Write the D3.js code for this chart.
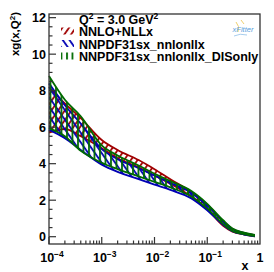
<!DOCTYPE html>
<html lang="en">
<head>
    <meta charset="UTF-8">
    <title>xg(x,Q2) bands</title>
    <script src="https://d3js.org/d3.v7.min.js"></script>
    <style>
        body { margin: 0; background: #fff; }
        svg { display: block; }
        text { font-family: "Liberation Sans", Arial, sans-serif; }
        .tick-label { font-size: 12.5px; font-weight: bold; fill: #000; }
        .legend-text { font-size: 12.5px; font-weight: bold; fill: #000; }
    </style>
</head>
<body>
    <svg id="chart" width="274" height="272"></svg>

    <script>
        const xs = [1e-4, 2e-4, 4e-4, 1e-3, 2e-3, 5e-3, 1e-2, 2e-2, 5e-2, 0.1, 0.2, 0.3, 0.5, 0.8];

        // NNLO+NLLx
        const redLow  = [5.7, 5.9, 5.5, 4.85, 4.3, 3.8, 3.35, 2.9, 2.2, 1.5, 0.6, 0.28, 0.12, 0.02];
        const redHigh = [8.2, 7.3, 6.5, 5.3, 4.75, 4.2, 3.7, 3.15, 2.45, 1.75, 0.85, 0.42, 0.2, 0.08];
        // NNPDF31sx_nnlonllx
        const blueLow  = [5.85, 5.4, 4.75, 3.95, 3.55, 3.15, 2.85, 2.56, 2.1, 1.45, 0.65, 0.3, 0.12, 0.02];
        const blueHigh = [8.4, 7.2, 6.2, 4.8, 4.25, 3.75, 3.35, 2.95, 2.4, 1.7, 0.85, 0.42, 0.2, 0.08];
        // NNPDF31sx_nnlonllx_DISonly
        const greenLow  = [5.95, 5.5, 4.7, 4.05, 3.7, 3.3, 3.0, 2.7, 2.2, 1.55, 0.7, 0.32, 0.14, 0.03];
        const greenHigh = [8.8, 7.5, 6.6, 5.0, 4.45, 3.9, 3.45, 3.05, 2.5, 1.8, 0.9, 0.45, 0.22, 0.1];

        const labels = ["NNLO+NLLx", "NNPDF31sx_nnlonllx", "NNPDF31sx_nnlonllx_DISonly"];
        const colors = ["#a00000", "#0000b4", "#006a00"];
        const hatchAngles = [35, -35, 0];

        const yTicks = [0, 2, 4, 6, 8, 10, 12];
        const xTickExp = [-4, -3, -2, -1, 0];

        const svg = d3.select("#chart");
        const mLeft = 49, mRight = 260, mTop = 14, mBottom = 244;

        const x = d3.scaleLog().domain([1e-4, 1]).range([mLeft, mRight]);
        const y = d3.scaleLinear().domain([-0.4, 12.2]).range([mBottom, mTop]);

        // hatch patterns
        const defs = svg.append("defs");
        colors.forEach((c, i) => {
            const p = defs.append("pattern")
                .attr("id", "hatch" + i)
                .attr("patternUnits", "userSpaceOnUse")
                .attr("width", 5.5).attr("height", 5.5)
                .attr("patternTransform", "rotate(" + hatchAngles[i] + ")");
            p.append("line")
                .attr("x1", 1).attr("y1", 0).attr("x2", 1).attr("y2", 5.5)
                .attr("stroke", c).attr("stroke-width", 1.8);
        });

        const series = [
            { lo: redLow, hi: redHigh },
            { lo: blueLow, hi: blueHigh },
            { lo: greenLow, hi: greenHigh }
        ];

        const area = d3.area()
            .x(d => x(d.x))
            .y0(d => y(d.lo))
            .y1(d => y(d.hi))
            .curve(d3.curveMonotoneX);
        const lineLo = d3.line().x(d => x(d.x)).y(d => y(d.lo)).curve(d3.curveMonotoneX);
        const lineHi = d3.line().x(d => x(d.x)).y(d => y(d.hi)).curve(d3.curveMonotoneX);

        const g = svg.append("g");
        series.forEach((s, i) => {
            const pts = xs.map((v, k) => ({ x: v, lo: s.lo[k], hi: s.hi[k] }));
            g.append("path").datum(pts)
                .attr("d", area)
                .attr("fill", "url(#hatch" + i + ")");
            g.append("path").datum(pts)
                .attr("d", lineLo)
                .attr("fill", "none").attr("stroke", colors[i]).attr("stroke-width", 1.8);
            g.append("path").datum(pts)
                .attr("d", lineHi)
                .attr("fill", "none").attr("stroke", colors[i]).attr("stroke-width", 1.8);
        });

        // frame
        svg.append("rect")
            .attr("x", mLeft).attr("y", mTop)
            .attr("width", mRight - mLeft).attr("height", mBottom - mTop)
            .attr("fill", "none").attr("stroke", "#333").attr("stroke-width", 1.3);

        // y ticks (inside)
        const axes = svg.append("g").attr("stroke", "#333").attr("stroke-width", 1.2);
        d3.range(0, 12.01, 0.5).forEach(v => {
            const major = Math.abs(v % 2) < 1e-6;
            axes.append("line")
                .attr("x1", mLeft).attr("x2", mLeft + (major ? 7 : 3.5))
                .attr("y1", y(v)).attr("y2", y(v));
        });
        yTicks.forEach(v => {
            svg.append("text").attr("class", "tick-label")
                .attr("x", 46).attr("y", y(v) + 4.5)
                .attr("text-anchor", "end")
                .text(v);
        });

        // x ticks (inside)
        xTickExp.slice(0, -1).forEach(e => {
            for (let m = 1; m < 10; m++) {
                const v = m * Math.pow(10, e);
                axes.append("line")
                    .attr("x1", x(v)).attr("x2", x(v))
                    .attr("y1", mBottom).attr("y2", mBottom - (m === 1 ? 7 : 3.5));
            }
        });
        xTickExp.forEach(e => {
            const t = svg.append("text").attr("class", "tick-label")
                .attr("x", x(Math.pow(10, e)) + (e === 0 ? 0 : 3))
                .attr("y", 262)
                .attr("text-anchor", "middle");
            if (e === 0) {
                t.text("1");
            } else {
                t.append("tspan").text("10");
                t.append("tspan").attr("dy", -5).attr("font-size", "8.5px").text(String(e).replace("-", "\u2212"));
            }
        });

        // axis titles
        svg.append("text")
            .attr("x", 245).attr("y", 270)
            .attr("text-anchor", "middle")
            .attr("font-size", "12.5px").attr("font-weight", "bold")
            .text("x");

        const yt = svg.append("text")
            .attr("transform", "translate(19,12) rotate(-90)")
            .attr("text-anchor", "end")
            .attr("font-size", "11.5px").attr("font-weight", "bold");
        yt.append("tspan").text("xg(x,Q");
        yt.append("tspan").attr("dy", -4).attr("font-size", "8px").text("2");
        yt.append("tspan").attr("dy", 4).text(")");

        // legend
        const q = svg.append("text").attr("class", "legend-text").attr("x", 79).attr("y", 23.5);
        q.append("tspan").text("Q");
        q.append("tspan").attr("dy", -5).attr("font-size", "8.5px").text("2");
        q.append("tspan").attr("dy", 5).text(" = 3.0 GeV");
        q.append("tspan").attr("dy", -5).attr("font-size", "8.5px").text("2");

        const legY = [36, 48.5, 61];
        labels.forEach((lab, i) => {
            svg.append("rect")
                .attr("x", 61).attr("y", legY[i] - 8.5)
                .attr("width", 13).attr("height", 7)
                .attr("fill", "url(#hatch" + i + ")");
            svg.append("text").attr("class", "legend-text")
                .attr("x", 79).attr("y", legY[i])
                .text(lab);
        });

        // xFitter logo
        const logo = svg.append("g");
        logo.append("path")
            .attr("d", "M236,22 Q240,26 238,32 M241,20 L244,24")
            .attr("fill", "none").attr("stroke", "#f0d070").attr("stroke-width", 1);
        logo.append("path")
            .attr("d", "M234,36 Q240,33 247,35")
            .attr("fill", "none").attr("stroke", "#90c0e8").attr("stroke-width", 0.8);
        logo.append("text")
            .attr("x", 243).attr("y", 32)
            .attr("text-anchor", "middle")
            .attr("font-size", "7.5px").attr("font-style", "italic")
            .attr("fill", "#5aa0dc")
            .text("xFitter");
    </script>
</body>
</html>
